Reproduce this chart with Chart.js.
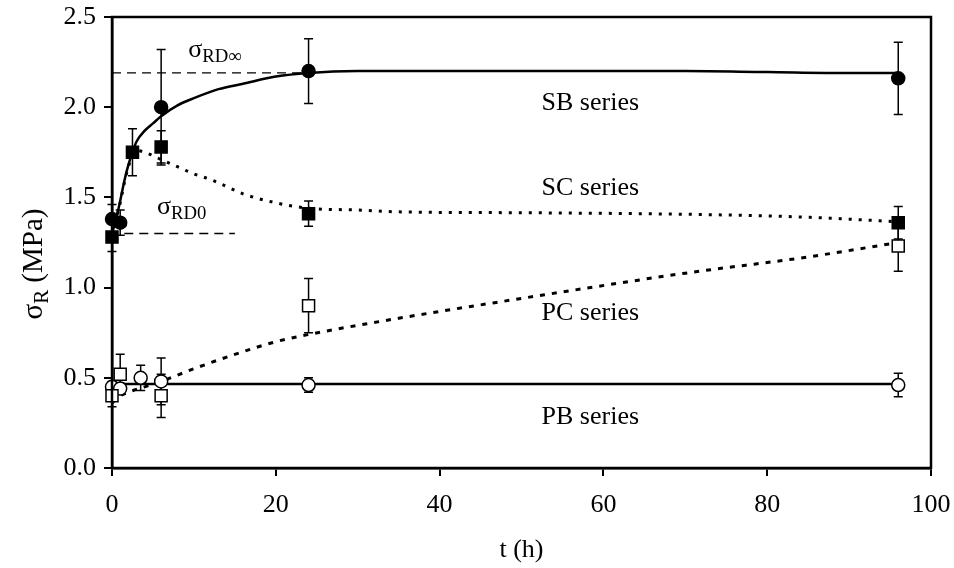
<!DOCTYPE html>
<html>
<head>
<meta charset="utf-8">
<script src="https://cdn.jsdelivr.net/npm/chart.js@4.4.0/dist/chart.umd.min.js"></script>
<style>
  html, body { margin: 0; padding: 0; background: #fff; }
</style>
</head>
<body>
<canvas id="chart" width="954" height="568"></canvas>
<script>
// measured points: t (h), sigma_R (MPa), error half width
const sbTime = [0, 1, 6, 24, 96];
const sbValue = [1.38, 1.36, 2.00, 2.20, 2.16];
const sbError = [0.08, 0.07, 0.32, 0.18, 0.20];

const scTime = [0, 2.5, 6, 24, 96];
const scValue = [1.28, 1.75, 1.78, 1.41, 1.36];
const scError = [0.08, 0.13, 0.09, 0.07, 0.09];

const pcTime = [0, 1, 6, 24, 96];
const pcValue = [0.40, 0.52, 0.40, 0.90, 1.23];
const pcError = [0.06, 0.11, 0.12, 0.15, 0.14];

const pbTime = [0, 1, 3.5, 6, 24, 96];
const pbValue = [0.45, 0.44, 0.50, 0.48, 0.46, 0.46];
const pbError = [0.03, 0.03, 0.07, 0.13, 0.04, 0.065];

// fitted curves
const sbFitTime = [0, 0.5, 1, 1.5, 2, 2.5, 3, 4, 5, 6, 8, 10, 13, 16, 20, 24, 30, 40, 50, 60, 70, 80, 90, 96];
const sbFitValue = [1.30, 1.38, 1.48, 1.59, 1.68, 1.75, 1.81, 1.87, 1.91, 1.95, 2.01, 2.05, 2.10, 2.13, 2.17, 2.19, 2.20, 2.20, 2.20, 2.20, 2.20, 2.195, 2.19, 2.19];

const scFitTime = [0, 0.5, 1, 1.5, 2, 2.5, 3, 4, 6, 8, 10, 12, 14, 16, 20, 24, 30, 35, 50, 72, 85, 96];
const scFitValue = [1.30, 1.38, 1.47, 1.58, 1.67, 1.73, 1.76, 1.75, 1.71, 1.67, 1.63, 1.60, 1.56, 1.52, 1.47, 1.44, 1.43, 1.42, 1.415, 1.405, 1.39, 1.365];

const pcFitTime = [0, 1, 2, 4, 6, 10, 15, 20, 24, 35, 50, 70, 85, 96];
const pcFitValue = [0.36, 0.40, 0.42, 0.45, 0.48, 0.55, 0.63, 0.70, 0.74, 0.83, 0.94, 1.08, 1.17, 1.25];

const pbFitTime = [0, 96];
const pbFitValue = [0.465, 0.465];

// reference levels
const rdInfTime = [0, 24];
const rdInfValue = [2.19, 2.19];
const rdZeroTime = [1.5, 15];
const rdZeroValue = [1.30, 1.30];

// text labels in data coordinates
const seriesLabels = ["SB series", "SC series", "PC series", "PB series"];
const seriesLabelTime = [58.4, 58.4, 58.4, 58.4];
const seriesLabelValue = [2.03, 1.56, 0.87, 0.29];

const xTicks = [0, 20, 40, 60, 80, 100];
const yTicks = [0, 0.5, 1.0, 1.5, 2.0, 2.5];

const FONT = "'Liberation Serif', 'Times New Roman', serif";
const FS = 26;

function toPoints(xs, ys) {
  return xs.map((x, i) => ({ x: x, y: ys[i] }));
}

function markerSet(xs, ys, style, filled, radius) {
  return {
    data: toPoints(xs, ys),
    showLine: false,
    pointStyle: style,
    pointRadius: radius,
    pointBackgroundColor: filled ? "#000" : "#fff",
    pointBorderColor: "#000",
    pointBorderWidth: 1.5,
    clip: false,
    order: 1,
  };
}

function curveSet(xs, ys, dash, width) {
  return {
    data: toPoints(xs, ys),
    borderColor: "#000",
    borderWidth: width,
    borderDash: dash,
    pointRadius: 0,
    cubicInterpolationMode: "monotone",
    fill: false,
    order: 2,
  };
}

const errorGroups = [
  { t: sbTime, v: sbValue, e: sbError },
  { t: scTime, v: scValue, e: scError },
  { t: pcTime, v: pcValue, e: pcError },
  { t: pbTime, v: pbValue, e: pbError },
];

const errorBarPlugin = {
  id: "errorBars",
  beforeDatasetsDraw(chart) {
    const ctx = chart.ctx;
    const xs = chart.scales.x;
    const ys = chart.scales.y;
    ctx.save();
    ctx.strokeStyle = "#000";
    ctx.lineWidth = 1.5;
    errorGroups.forEach((g) => {
      g.t.forEach((t, i) => {
        const px = xs.getPixelForValue(t);
        const top = ys.getPixelForValue(g.v[i] + g.e[i]);
        const bot = ys.getPixelForValue(g.v[i] - g.e[i]);
        ctx.beginPath();
        ctx.moveTo(px, top);
        ctx.lineTo(px, bot);
        ctx.moveTo(px - 4.5, top);
        ctx.lineTo(px + 4.5, top);
        ctx.moveTo(px - 4.5, bot);
        ctx.lineTo(px + 4.5, bot);
        ctx.stroke();
      });
    });
    ctx.restore();
  },
};

// draws "main" followed by a lowered, smaller "sub", left aligned at x
function drawSub(ctx, x, y, main, sub, size, rest) {
  ctx.font = size + "px " + FONT;
  ctx.fillText(main, x, y);
  let w = ctx.measureText(main).width;
  ctx.font = size * 0.72 + "px " + FONT;
  ctx.fillText(sub, x + w, y + size * 0.22);
  w += ctx.measureText(sub).width;
  if (rest) {
    ctx.font = size + "px " + FONT;
    ctx.fillText(rest, x + w, y);
    w += ctx.measureText(rest).width;
  }
  return w;
}

function subWidth(ctx, main, sub, size, rest) {
  ctx.font = size + "px " + FONT;
  let w = ctx.measureText(main).width + (rest ? ctx.measureText(rest).width : 0);
  ctx.font = size * 0.72 + "px " + FONT;
  return w + ctx.measureText(sub).width;
}

const textPlugin = {
  id: "texts",
  afterDraw(chart) {
    const ctx = chart.ctx;
    const area = chart.chartArea;
    const xs = chart.scales.x;
    const ys = chart.scales.y;
    ctx.save();

    // frame
    ctx.strokeStyle = "#000";
    ctx.lineWidth = 2.5;
    ctx.strokeRect(area.left, area.top, area.right - area.left, area.bottom - area.top);

    ctx.fillStyle = "#000";
    ctx.textBaseline = "alphabetic";

    // series names
    ctx.textAlign = "center";
    ctx.font = FS + "px " + FONT;
    seriesLabels.forEach((s, i) => {
      ctx.fillText(s, xs.getPixelForValue(seriesLabelTime[i]), ys.getPixelForValue(seriesLabelValue[i]) + FS * 0.33);
    });

    // sigma annotations
    ctx.textAlign = "left";
    drawSub(ctx, xs.getPixelForValue(9.3), ys.getPixelForValue(2.28), "\u03c3", "RD\u221e", FS);
    drawSub(ctx, xs.getPixelForValue(5.5), ys.getPixelForValue(1.41), "\u03c3", "RD0", FS);

    // x title
    ctx.textAlign = "center";
    ctx.font = FS + "px " + FONT;
    ctx.fillText("t (h)", (area.left + area.right) / 2, 557);

    // y title
    ctx.translate(42, 264);
    ctx.rotate(-Math.PI / 2);
    ctx.textAlign = "left";
    const w = subWidth(ctx, "\u03c3", "R", 29, " (MPa)");
    drawSub(ctx, -w / 2, 0, "\u03c3", "R", 29, " (MPa)");
    ctx.restore();
  },
};

new Chart(document.getElementById("chart"), {
  type: "line",
  data: {
    datasets: [
      markerSet(sbTime, sbValue, "circle", true, 6.5),
      markerSet(scTime, scValue, "rect", true, 8.5),
      markerSet(pcTime, pcValue, "rect", false, 8.5),
      markerSet(pbTime, pbValue, "circle", false, 6.5),
      curveSet(sbFitTime, sbFitValue, [], 2.5),
      curveSet(scFitTime, scFitValue, [3, 7], 3),
      curveSet(pcFitTime, pcFitValue, [5, 7], 3),
      curveSet(pbFitTime, pbFitValue, [], 2.5),
      curveSet(rdInfTime, rdInfValue, [9, 6], 1.3),
      curveSet(rdZeroTime, rdZeroValue, [9, 6], 1.3),
    ],
  },
  options: {
    responsive: false,
    animation: false,
    devicePixelRatio: 1,
    layout: { padding: { top: 17, right: 23, left: 0, bottom: 0 } },
    plugins: { legend: { display: false }, tooltip: { enabled: false } },
    scales: {
      x: {
        type: "linear",
        min: 0,
        max: 100,
        afterBuildTicks: (s) => { s.ticks = xTicks.map((v) => ({ value: v })); },
        afterFit: (s) => { s.height = 100; s.paddingLeft = 0; s.paddingRight = 0; },
        ticks: { color: "#000", font: { family: FONT, size: FS }, padding: 14, maxRotation: 0 },
        grid: { drawOnChartArea: false, drawTicks: true, tickLength: 8, color: "#000", lineWidth: 2 },
        border: { color: "#000", width: 2.5 },
      },
      y: {
        type: "linear",
        min: 0,
        max: 2.5,
        afterBuildTicks: (s) => { s.ticks = yTicks.map((v) => ({ value: v })); },
        afterFit: (s) => { s.width = 112; s.paddingTop = 0; s.paddingBottom = 0; },
        ticks: { color: "#000", font: { family: FONT, size: FS }, padding: 8, callback: (v) => Number(v).toFixed(1) },
        grid: { drawOnChartArea: false, drawTicks: true, tickLength: 8, color: "#000", lineWidth: 2 },
        border: { color: "#000", width: 2.5 },
      },
    },
  },
  plugins: [errorBarPlugin, textPlugin],
});
</script>
</body>
</html>
